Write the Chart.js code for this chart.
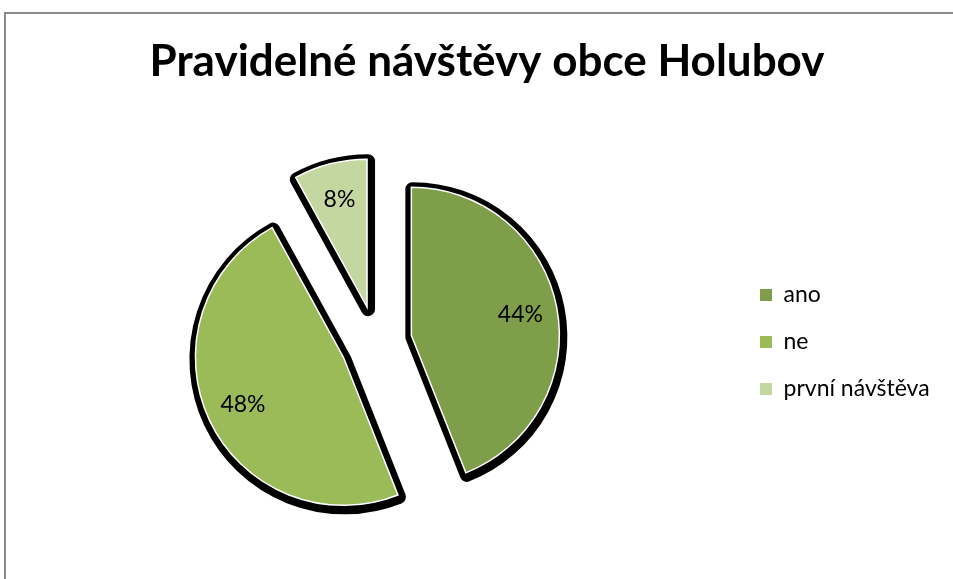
<!DOCTYPE html>
<html>
<head>
<meta charset="utf-8">
<script src="https://cdn.jsdelivr.net/npm/chart.js@4.4.1/dist/chart.umd.min.js"></script>
<style>
  html, body { margin: 0; padding: 0; background: #ffffff; }
  #wrap { position: relative; width: 953px; height: 579px; overflow: hidden; background: #ffffff; }
  #c { position: absolute; left: 0; top: 0; }
  #frame { position: absolute; left: 4px; top: 12px; right: -20px; bottom: -20px;
           border-top: 2px solid #8a8a8a; border-left: 2px solid #8a8a8a; pointer-events: none; }
</style>
</head>
<body>
<div id="wrap">
  <canvas id="c" width="953" height="579"></canvas>
  <div id="frame"></div>
</div>
<script>
// ---- data ----
const chartTitle = 'Pravidelné návštěvy obce Holubov';
const categories = ['ano', 'ne', 'první návštěva'];
const shares = [44, 48, 8];
const sliceColors = ['#7F9E4A', '#9BBB59', '#C4D7A0'];

// ---- style / layout constants ----
const FONT = 'Lato';
const legendFontSize = 23;
const legendPadding = 24;
const legendBoxX = 760;     // left edge of legend swatches
const pieCenterX = 376;
const titleCenterX = 487;

const mctx = document.createElement('canvas').getContext('2d');
mctx.font = legendFontSize + 'px ' + FONT;
const maxTextW = Math.max(...categories.map(c => mctx.measureText(c).width));
const legendW = legendPadding + 12 + legendFontSize / 2 + maxTextW + 10;
const legendLeft = legendBoxX - legendPadding;
const padLeft = 2 * pieCenterX - legendLeft;
const padRight = 953 - legendLeft - legendW;

const explodePlugin = {
  id: 'explode',
  beforeDatasetDraw(chart, args, opts) {
    const ctx = chart.ctx;
    const arcs = args.meta.data;
    const shift = a => {
      const mid = (a.startAngle + a.endAngle) / 2;
      return [Math.cos(mid) * opts.distance, Math.sin(mid) * opts.distance];
    };
    // shadows
    arcs.forEach(a => {
      const [dx, dy] = shift(a);
      const ghost = Object.create(a);
      ghost.options = Object.assign({}, a.options, {
        backgroundColor: '#000000', borderColor: '#000000',
        borderWidth: opts.shadowWidth, borderJoinStyle: 'round'
      });
      ctx.save();
      ctx.translate(dx + opts.shadowDx, dy + opts.shadowDy);
      a.draw.call(ghost, ctx);
      ctx.restore();
    });
    // slices
    arcs.forEach(a => {
      const [dx, dy] = shift(a);
      ctx.save();
      ctx.translate(dx, dy);
      a.draw(ctx);
      ctx.restore();
    });
    // percentage labels
    const values = chart.data.datasets[args.index].data;
    ctx.save();
    ctx.font = opts.labelSize + 'px ' + FONT;
    ctx.fillStyle = '#000000';
    ctx.textAlign = 'center';
    ctx.textBaseline = 'middle';
    arcs.forEach((a, i) => {
      const mid = (a.startAngle + a.endAngle) / 2;
      const r = opts.distance + a.outerRadius * opts.labelRadius;
      ctx.fillText(values[i] + '%', a.x + Math.cos(mid) * r, a.y + Math.sin(mid) * r);
    });
    ctx.restore();
    return false;
  }
};

const titleCenter = {
  id: 'titleCenter',
  afterLayout(chart) {
    const t = chart.titleBlock;
    if (!t) return;
    const w = t.right - t.left;
    t.left = titleCenterX - w / 2;
    t.right = titleCenterX + w / 2;
  }
};

new Chart(document.getElementById('c'), {
  type: 'pie',
  data: {
    labels: categories,
    datasets: [{
      data: shares,
      backgroundColor: sliceColors,
      borderColor: '#ffffff',
      borderWidth: 1.5,
      borderJoinStyle: 'miter'
    }]
  },
  options: {
    responsive: false,
    animation: false,
    devicePixelRatio: 1,
    events: [],
    datasets: { pie: { radius: 148 } },
    layout: { padding: { left: padLeft, right: padRight, top: 0, bottom: 0 } },
    plugins: {
      title: {
        display: true,
        text: chartTitle,
        color: '#000000',
        font: { family: FONT, size: 44, weight: 'bold', lineHeight: 1 },
        padding: { top: 40, bottom: 21 }
      },
      legend: {
        position: 'right',
        fullSize: false,
        labels: {
          boxWidth: 12,
          boxHeight: 12,
          padding: legendPadding,
          color: '#000000',
          font: { family: FONT, size: legendFontSize },
          generateLabels(chart) {
            const items = Chart.overrides.doughnut.plugins.legend.labels.generateLabels(chart);
            return items.map(it => Object.assign(it, { lineWidth: 0 }));
          }
        }
      },
      tooltip: { enabled: false },
      explode: { distance: 36, shadowWidth: 14, shadowDx: 1, shadowDy: 2, labelRadius: 0.75, labelSize: 23 }
    }
  },
  plugins: [explodePlugin, titleCenter]
});
</script>
</body>
</html>
